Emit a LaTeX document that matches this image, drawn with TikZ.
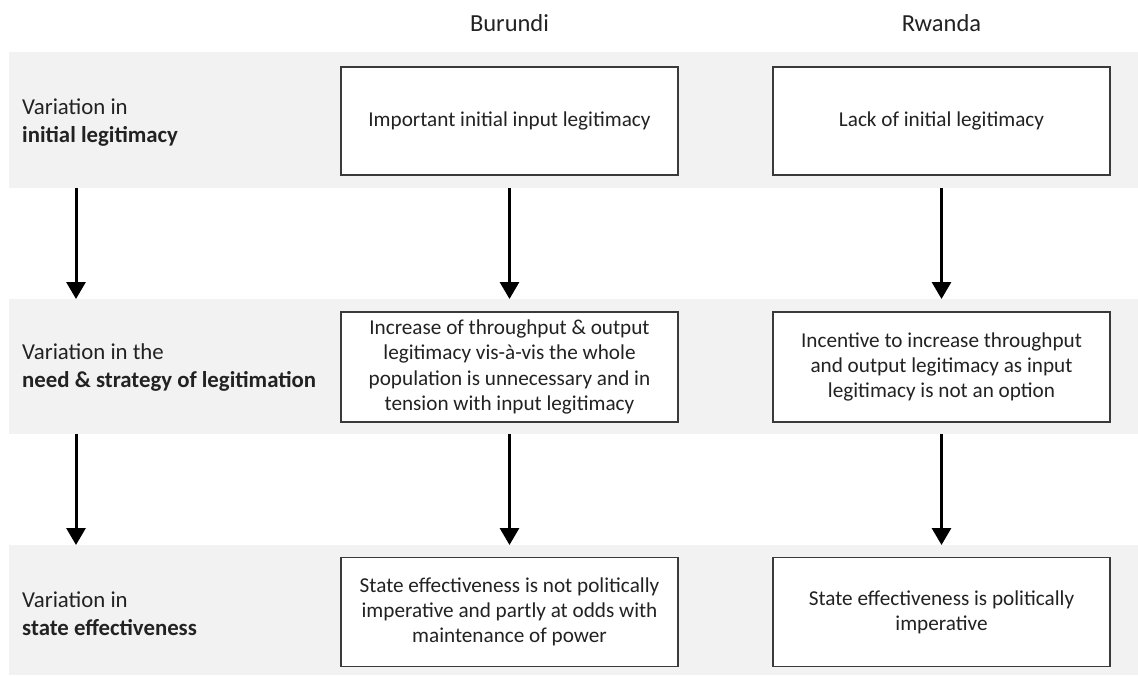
\documentclass[tikz,border=0pt]{standalone}
\usepackage{fontspec}
\setmainfont{Carlito}
\usetikzlibrary{arrows.meta}
\definecolor{bandgray}{HTML}{F2F2F2}
\definecolor{boxline}{HTML}{3A3A3A}
\definecolor{ink}{HTML}{222222}
\tikzset{
  band/.style={fill=bandgray, draw=none, inner sep=0pt, anchor=north west},
  casebox/.style={draw=boxline, line width=1.8pt, fill=white, align=center,
    inner sep=0pt, text=ink, minimum width=337pt,
    font=\fontsize{21.2}{25.3}\selectfont},
  rowlabel/.style={anchor=west, align=left, inner sep=0pt, text=ink,
    font=\fontsize{22.8}{28}\selectfont},
  header/.style={text=ink, inner sep=0pt, font=\fontsize{24.5}{29}\selectfont},
  flow/.style={line width=3pt, -{Triangle[length=17pt,width=19pt]}}
}
\begin{document}
\begin{tikzpicture}[x=1pt,y=-1pt]
\useasboundingbox (0,0) rectangle (1138,675);

% grey row bands
\node[band, minimum width=1129pt, minimum height=136pt] (band1) at (9,52) {};
\node[band, minimum width=1129pt, minimum height=135pt] (band2) at (9,299) {};
\node[band, minimum width=1129pt, minimum height=130pt] (band3) at (9,545) {};

% column headers
\node[header] (hb) at (509.5,23) {Burundi};
\node[header] (hr) at (941.5,23) {Rwanda};
\coordinate (hl) at (76,23);

% row labels
\node[rowlabel] (l1) at (22,122.5) {Variation in\\\textbf{initial legitimacy}};
\node[rowlabel] (l2) at (22,367.5) {Variation in the\\\textbf{need \& strategy of legitimation}};
\node[rowlabel] (l3) at (22,613.5) {Variation in\\\textbf{state effectiveness}};

% Burundi column
\node[casebox, minimum height=108pt] (b1) at (509.5,121)
  {Important initial input legitimacy};
\node[casebox, minimum height=110pt] (b2) at (509.5,367)
  {Increase of throughput \& output\\legitimacy vis-à-vis the whole\\population is unnecessary and in\\tension with input legitimacy};
\node[casebox, minimum height=109pt] (b3) at (509.5,612)
  {State effectiveness is not politically\\imperative and partly at odds with\\maintenance of power};

% Rwanda column
\node[casebox, minimum height=108pt] (r1) at (941.5,121)
  {Lack of initial legitimacy};
\node[casebox, minimum height=110pt] (r2) at (941.5,367)
  {Incentive to increase throughput\\and output legitimacy as input\\legitimacy is not an option};
\node[casebox, minimum height=109pt] (r3) at (941.5,612)
  {State effectiveness is politically\\imperative};

% arrows between the rows
\foreach \c in {hl,hb,hr} {
  \draw[flow] (band1.south -| \c) -- (band2.north -| \c);
  \draw[flow] (band2.south -| \c) -- (band3.north -| \c);
}
\end{tikzpicture}
\end{document}
